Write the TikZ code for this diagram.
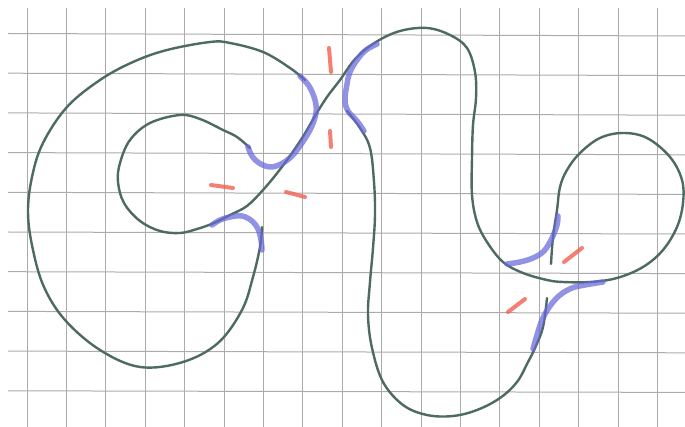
\documentclass[tikz,border=0pt]{standalone}
\definecolor{knotc}{HTML}{4E6A64}
\definecolor{bluec}{HTML}{6868DC}
\definecolor{redc}{HTML}{F2604F}
\definecolor{gridc}{HTML}{ABABAB}
\begin{document}
\begin{tikzpicture}[x=1pt,y=-1pt,
  gridline/.style={draw=gridc, line width=1pt},
  knot/.style={draw=knotc, line width=2.4pt, line cap=round, line join=round},
  smootharc/.style={draw=bluec, line width=5.5pt, line cap=round, line join=round, opacity=0.72},
  redmark/.style={draw=redc, line width=4pt, line cap=round, opacity=0.8}]
\useasboundingbox[fill=white] (0,0) rectangle (685,427);
% grid
\foreach \i in {0,...,16} \draw[gridline] ({27+39.4*\i},8) -- ({27+39.4*\i},427);
\foreach \j in {0,...,9} \draw[gridline] (8,{33.5+39.7*\j}) -- (685,{36+39.6*\j});
% main strand: inner loop, diagonal, tall loop, small right loop
\draw[knot] plot[smooth, tension=0.6] coordinates {
 (250,148) (237,137) (223,130) (200,119) (180,115) (150,123) (130,140) (120,163)
 (118,182) (124,203) (140,221) (160,231) (180,233) (197,229) (214,223) (230,215)
 (247,206) (263,190) (278,172) (292,153) (304,135) (315,116) (327,97) (340,80)
 (356,58) (376,42) (400,31) (427,28) (450,35) (467,48) (475,72) (476,98) (473,125)
 (472,158) (472,195) (477,222) (487,242) (503,262) (523,273) (547,280) (563,282)
 (590,282) (617,278) (643,267) (663,250) (677,227) (683,203) (682,180) (670,157)
 (647,138) (623,133) (600,138) (580,153) (567,170) (560,187) (557,210) (553,237) (551,264)};
% big left loop
\draw[knot] plot[smooth, tension=0.6] coordinates {
 (305,80) (290,68) (263,52) (230,43) (210,42) (167,50) (133,62) (100,80) (67,107)
 (43,143) (32,177) (28,213) (33,250) (44,287) (65,320) (100,350) (140,367) (183,362)
 (218,343) (242,310) (253,277) (260,247) (262,227)};
% middle strand down to bottom
\draw[knot] plot[smooth, tension=0.6] coordinates {
 (347,111) (360,128) (370,148) (374,182) (375,215) (373,248) (370,282) (368,315)
 (372,348) (383,382) (403,405) (427,415) (453,416) (477,410) (500,398) (517,382)
 (528,362) (535,348) (543,327) (547,298)};
% blue smoothing arcs
\draw[smootharc] plot[smooth, tension=0.6] coordinates {
 (300,76) (309,86) (315,100) (316,113) (311,128) (302,143) (292,156) (281,164)
 (270,167) (259,163) (252,156) (248,147)};
\draw[smootharc] plot[smooth, tension=0.6] coordinates {
 (377,44) (366,50) (357,60) (350,72) (347,84) (345,100) (348,111) (357,121) (364,131)};
\draw[smootharc] plot[smooth, tension=0.6] coordinates {
 (212,225) (220,220) (230,217) (242,216) (252,221) (258,229) (261,240) (262,250)};
\draw[smootharc] plot[smooth, tension=0.6] coordinates {
 (507,264) (520,262) (533,258) (544,251) (552,238) (557,225) (558,216)};
\draw[smootharc] plot[smooth, tension=0.6] coordinates {
 (533,349) (537,335) (542,320) (550,306) (560,295) (572,288) (585,285) (603,282)};
% red marks
\draw[redmark] (329,48) -- (331,72);
\draw[redmark] (330,131) -- (331,147);
\draw[redmark] (211,185) -- (233,188);
\draw[redmark] (286,192) -- (305,197);
\draw[redmark] (564,262) -- (582,248);
\draw[redmark] (508,312) -- (525,299);
\end{tikzpicture}
\end{document}
